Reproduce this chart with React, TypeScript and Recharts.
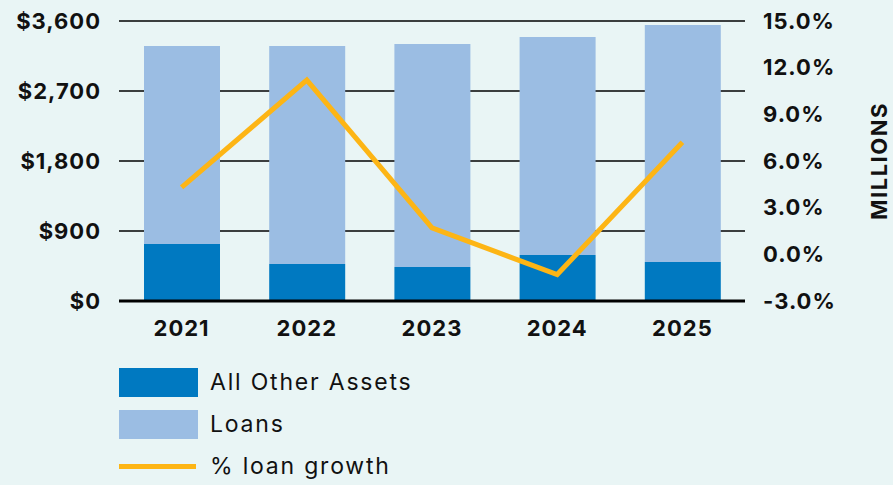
import React from 'react';
import { ComposedChart, Bar, Line, XAxis, YAxis, CartesianGrid, Legend } from 'recharts';

const years = ['2021', '2022', '2023', '2024', '2025'];
const otherAssets = [733, 476, 437, 591, 501];
const loans = [2545, 2802, 2867, 2803, 3048];
const loanGrowth = [4.3, 11.2, 1.7, -1.3, 7.2];
const leftTicks = [0, 900, 1800, 2700, 3600];
const rightTicks = [-3, 0, 3, 6, 9, 12, 15];

const data = years.map((y, i) => ({
  year: y,
  other: otherAssets[i],
  loans: loans[i],
  growth: loanGrowth[i],
}));

const BG = '#E9F5F5';
const DARK = '#0079C1';
const LIGHT = '#9BBDE3';
const ORANGE = '#FDB515';
const FONT = 'Inter, "Noto Sans", sans-serif';

const tickStyle = { fill: '#111', fontSize: 22, fontWeight: 700, fontFamily: FONT, letterSpacing: 1 };

const LegendContent = () => {
  const items = [
    { label: 'All Other Assets', kind: 'rect', color: DARK },
    { label: 'Loans', kind: 'rect', color: LIGHT },
    { label: '% loan growth', kind: 'line', color: ORANGE },
  ];
  return (
    <div style={{ fontFamily: FONT }}>
      {items.map((it) => (
        <div key={it.label} style={{ display: 'flex', alignItems: 'center', height: 29, marginBottom: 13 }}>
          <div style={{ width: 79, height: 29, display: 'flex', alignItems: 'center' }}>
            {it.kind === 'rect' ? (
              <div style={{ width: 79, height: 29, background: it.color }} />
            ) : (
              <div style={{ width: 77, height: 5, background: it.color }} />
            )}
          </div>
          <span
            style={{
              marginLeft: 12,
              fontSize: 23,
              color: '#111',
              fontWeight: 400,
              lineHeight: '29px',
              letterSpacing: 1.8,
              whiteSpace: 'nowrap',
            }}
          >
            {it.label}
          </span>
        </div>
      ))}
    </div>
  );
};

const MillionsLabel = (props: any) => {
  const vb = props.viewBox || {};
  const x = (vb.x ?? 745) + (vb.width ?? 148) - 14;
  const y = (vb.y ?? 21) + (vb.height ?? 280) / 2;
  return (
    <text
      x={x}
      y={y}
      transform={`rotate(-90, ${x}, ${y})`}
      textAnchor="middle"
      dominantBaseline="central"
      fill="#111"
      fontSize={22}
      fontWeight={700}
      fontFamily={FONT}
      letterSpacing={1.5}
    >
      MILLIONS
    </text>
  );
};

export default function App() {
  return (
    <div style={{ position: 'absolute', left: 0, top: 0, width: 893, height: 485, background: BG }}>
      <ComposedChart
        width={893}
        height={485}
        data={data}
        margin={{ top: 21, right: 0, bottom: 154, left: 0 }}
        barCategoryGap="19.6%"
      >
        <CartesianGrid yAxisId="left" vertical={false} stroke="#000" strokeWidth={1.5} />
        <XAxis
          dataKey="year"
          height={30}
          tickLine={false}
          tickSize={0}
          tickMargin={19}
          axisLine={{ stroke: '#000', strokeWidth: 3 }}
          tick={tickStyle}
        />
        <YAxis
          yAxisId="left"
          width={119}
          domain={[0, 3600]}
          ticks={leftTicks}
          interval={0}
          axisLine={false}
          tickLine={false}
          tickSize={0}
          tickMargin={18}
          tick={tickStyle}
          tickFormatter={(v: number) => `$${v.toLocaleString('en-US')}`}
        />
        <YAxis
          yAxisId="right"
          orientation="right"
          width={148}
          domain={[-3, 15]}
          ticks={rightTicks}
          interval={0}
          axisLine={false}
          tickLine={false}
          tickSize={0}
          tickMargin={18}
          tick={tickStyle}
          tickFormatter={(v: number) => `${v.toFixed(1)}%`}
          label={<MillionsLabel />}
        />
        <Bar yAxisId="left" dataKey="other" stackId="a" fill={DARK} barSize={76} isAnimationActive={false} />
        <Bar yAxisId="left" dataKey="loans" stackId="a" fill={LIGHT} barSize={76} isAnimationActive={false} />
        <Line
          yAxisId="right"
          dataKey="growth"
          type="linear"
          stroke={ORANGE}
          strokeWidth={5}
          dot={false}
          activeDot={false}
          isAnimationActive={false}
        />
        <Legend
          layout="vertical"
          align="center"
          verticalAlign="middle"
          content={<LegendContent />}
          wrapperStyle={{ top: 368, left: 119, width: 400, height: 120 }}
        />
      </ComposedChart>
    </div>
  );
}
